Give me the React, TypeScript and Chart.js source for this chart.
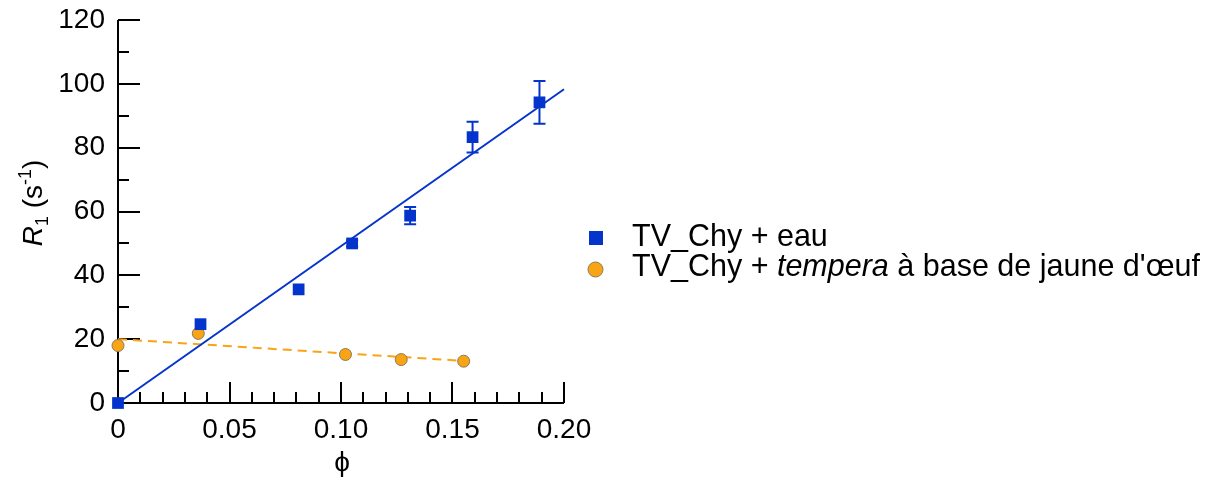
import React, { useEffect, useRef } from "react";
import { Chart, registerables } from "chart.js";

Chart.register(...registerables);

// ---- data ----
const waterPhi = [0, 0.037, 0.081, 0.105, 0.131, 0.159, 0.189];
const waterR1 = [0, 24.7, 35.6, 50.0, 58.7, 83.3, 94.2];
const waterErr = [0, 0, 0, 1.0, 2.7, 4.8, 6.7];

const temperaPhi = [0, 0.036, 0.102, 0.127, 0.155];
const temperaR1 = [18.0, 21.8, 15.2, 13.6, 13.1];

const waterFitPhi = [0, 0.2];
const waterFitR1 = [0, 98.3];
const temperaFitPhi = [0, 0.155];
const temperaFitR1 = [20.0, 13.2];

const xTicks = [0, 0.05, 0.1, 0.15, 0.2];
const xTickLabels = ["0", "0.05", "0.10", "0.15", "0.20"];
const yTicks = [0, 20, 40, 60, 80, 100, 120];
const yTickLabels = ["0", "20", "40", "60", "80", "100", "120"];
const xMinorTicks = [0, 0.01, 0.02, 0.03, 0.04, 0.05, 0.06, 0.07, 0.08, 0.09, 0.1, 0.11, 0.12, 0.13, 0.14, 0.15, 0.16, 0.17, 0.18, 0.19, 0.2];
const yMinorTicks = [0, 10, 20, 30, 40, 50, 60, 70, 80, 90, 100, 110, 120];

const seriesWater = "TV_Chy + eau";
const seriesTemperaParts = ["TV_Chy + ", "tempera", " à base de jaune d'œuf"];
const xTitle = "ϕ";

const BLUE = "#0434CC";
const ORANGE = "#F8A415";
const FONT = "'Liberation Sans', Arial, Helvetica, sans-serif";

const decorPlugin = {
  id: "decor",
  beforeDatasetsDraw(chart: any) {
    const { ctx, chartArea, scales } = chart;
    const x = scales.x;
    const y = scales.y;
    ctx.save();
    ctx.strokeStyle = "#000";
    ctx.lineWidth = 2;
    ctx.lineCap = "butt";
    ctx.beginPath();
    ctx.moveTo(chartArea.left, chartArea.top);
    ctx.lineTo(chartArea.left, chartArea.bottom);
    ctx.lineTo(chartArea.right, chartArea.bottom);
    ctx.stroke();
    ctx.beginPath();
    yMinorTicks.forEach((v) => {
      const p = Math.round(y.getPixelForValue(v));
      const len = yTicks.includes(v) ? 22 : 11;
      ctx.moveTo(chartArea.left, p);
      ctx.lineTo(chartArea.left + len, p);
    });
    xMinorTicks.forEach((v, i) => {
      const p = Math.round(x.getPixelForValue(v));
      const len = i % 5 === 0 ? 21 : 11;
      ctx.moveTo(p, chartArea.bottom);
      ctx.lineTo(p, chartArea.bottom - len);
    });
    ctx.stroke();
    ctx.restore();
  },
  afterDatasetsDraw(chart: any) {
    const { ctx, scales } = chart;
    const x = scales.x;
    const y = scales.y;
    ctx.save();
    ctx.strokeStyle = BLUE;
    ctx.lineWidth = 2;
    ctx.beginPath();
    waterPhi.forEach((v, i) => {
      const e = waterErr[i];
      if (!e) return;
      const px = x.getPixelForValue(v);
      const top = y.getPixelForValue(waterR1[i] + e);
      const bot = y.getPixelForValue(waterR1[i] - e);
      ctx.moveTo(px, top);
      ctx.lineTo(px, bot);
      ctx.moveTo(px - 6, top);
      ctx.lineTo(px + 6, top);
      ctx.moveTo(px - 6, bot);
      ctx.lineTo(px + 6, bot);
    });
    ctx.stroke();
    ctx.restore();
  },
  afterDraw(chart: any) {
    const { ctx } = chart;
    ctx.save();
    ctx.fillStyle = "#000";
    // y title: R1 (s-1)
    const big = `28px ${FONT}`;
    const bigIt = `italic 28px ${FONT}`;
    const small = `18px ${FONT}`;
    const segs = [
      { t: "R", f: bigIt, dy: 0 },
      { t: "1", f: small, dy: 6 },
      { t: " (s", f: big, dy: 0 },
      { t: "-1", f: small, dy: -11 },
      { t: ")", f: big, dy: 0 },
    ];
    let total = 0;
    segs.forEach((s) => {
      ctx.font = s.f;
      total += ctx.measureText(s.t).width;
    });
    ctx.translate(32, 203);
    ctx.rotate(-Math.PI / 2);
    ctx.textBaseline = "alphabetic";
    ctx.textAlign = "left";
    let cx = -total / 2;
    segs.forEach((s) => {
      ctx.font = s.f;
      ctx.fillText(s.t, cx, 10 + s.dy);
      cx += ctx.measureText(s.t).width;
    });
    ctx.setTransform(1, 0, 0, 1, 0, 0);

    // x title
    ctx.font = big;
    ctx.textAlign = "center";
    ctx.textBaseline = "middle";
    ctx.fillText(xTitle, 342, 463);

    // legend
    const lg = `30.5px ${FONT}`;
    const lgIt = `italic 30.5px ${FONT}`;
    ctx.fillStyle = BLUE;
    ctx.fillRect(589, 231, 14, 14);
    ctx.beginPath();
    ctx.arc(595.5, 269.5, 7.5, 0, Math.PI * 2);
    ctx.fillStyle = ORANGE;
    ctx.fill();
    ctx.strokeStyle = "#8a7a5a";
    ctx.lineWidth = 1;
    ctx.stroke();

    ctx.fillStyle = "#000";
    ctx.textAlign = "left";
    ctx.textBaseline = "alphabetic";
    ctx.font = lg;
    ctx.fillText(seriesWater, 632, 246);
    let lx = 632;
    seriesTemperaParts.forEach((t, i) => {
      ctx.font = i === 1 ? lgIt : lg;
      ctx.fillText(t, lx, 276);
      lx += ctx.measureText(t).width;
    });
    ctx.restore();
  },
};

export default function App() {
  const ref = useRef<HTMLCanvasElement | null>(null);
  useEffect(() => {
    if (!ref.current) return;
    const chart = new Chart(ref.current, {
      type: "scatter",
      data: {
        datasets: [
          {
            label: seriesWater,
            data: waterPhi.map((v, i) => ({ x: v, y: waterR1[i] })),
            pointStyle: "rect",
            pointRadius: 8.3,
            pointBackgroundColor: BLUE,
            pointBorderWidth: 0,
            showLine: false,
            clip: false,
          },
          {
            label: seriesTemperaParts.join(""),
            data: temperaPhi.map((v, i) => ({ x: v, y: temperaR1[i] })),
            pointStyle: "circle",
            pointRadius: 6,
            pointBackgroundColor: ORANGE,
            pointBorderColor: "#8a7a5a",
            pointBorderWidth: 1,
            showLine: false,
            clip: false,
          },
          {
            label: "fit eau",
            data: waterFitPhi.map((v, i) => ({ x: v, y: waterFitR1[i] })),
            showLine: true,
            borderColor: BLUE,
            borderWidth: 2,
            pointRadius: 0,
            clip: false,
          },
          {
            label: "fit tempera",
            data: temperaFitPhi.map((v, i) => ({ x: v, y: temperaFitR1[i] })),
            showLine: true,
            borderColor: ORANGE,
            borderWidth: 2,
            borderDash: [9, 6],
            pointRadius: 0,
            clip: false,
          },
        ],
      },
      options: {
        responsive: false,
        animation: false,
        events: [],
        layout: { autoPadding: false, padding: { left: 0, right: 652, top: 20, bottom: 0 } },
        plugins: { legend: { display: false }, tooltip: { enabled: false } },
        scales: {
          x: {
            type: "linear",
            min: 0,
            max: 0.2,
            grid: { display: false, drawTicks: false },
            border: { display: false },
            afterBuildTicks: (s: any) => {
              s.ticks = xTicks.map((v) => ({ value: v }));
            },
            afterFit: (s: any) => {
              s.height = 76;
              s.paddingLeft = 0;
              s.paddingRight = 0;
            },
            ticks: {
              padding: 10,
              maxRotation: 0,
              autoSkip: false,
              color: "#000",
              font: { family: FONT, size: 28 },
              callback: (_v: any, i: number) => xTickLabels[i],
            },
          },
          y: {
            type: "linear",
            min: 0,
            max: 120,
            grid: { display: false, drawTicks: false },
            border: { display: false },
            afterBuildTicks: (s: any) => {
              s.ticks = yTicks.map((v) => ({ value: v }));
            },
            afterFit: (s: any) => {
              s.width = 118;
              s.paddingTop = 0;
              s.paddingBottom = 0;
            },
            ticks: {
              padding: 13,
              autoSkip: false,
              color: "#000",
              font: { family: FONT, size: 28, lineHeight: 0.5 },
              callback: (_v: any, i: number) => yTickLabels[i],
            },
          },
        },
      },
      plugins: [decorPlugin],
    } as any);
    return () => chart.destroy();
  }, []);
  return (
    <div style={{ position: "absolute", left: 0, top: 0, width: 1216, height: 479, background: "#fff" }}>
      <canvas ref={ref} width={1216} height={479} style={{ display: "block" }} />
    </div>
  );
}
